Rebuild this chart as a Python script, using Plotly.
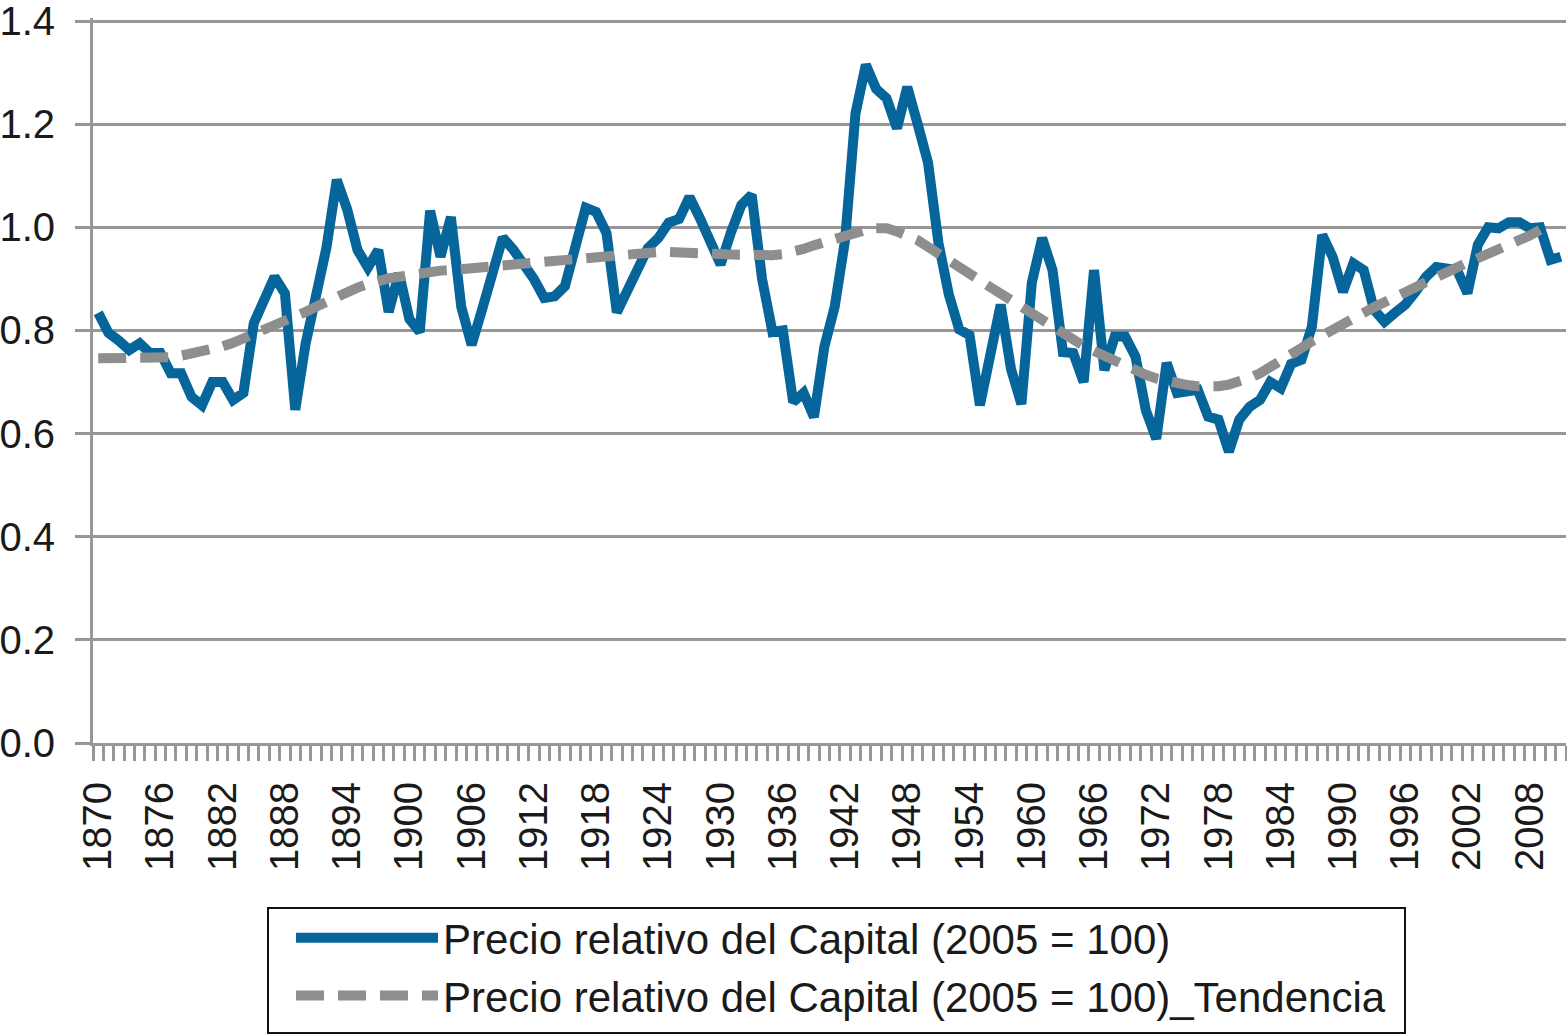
import plotly.graph_objects as go

years = list(range(1870, 2012))

precio = [
    0.834, 0.795, 0.780, 0.762, 0.775, 0.756, 0.756, 0.717, 0.717, 0.671,
    0.655, 0.700, 0.700, 0.665, 0.679, 0.814, 0.859, 0.904, 0.872, 0.646,
    0.775, 0.870, 0.960, 1.092, 1.035, 0.956, 0.922, 0.956, 0.836, 0.911,
    0.822, 0.797, 1.032, 0.943, 1.020, 0.846, 0.772, 0.840, 0.904, 0.980,
    0.957, 0.932, 0.900, 0.863, 0.866, 0.886, 0.972, 1.038, 1.030, 0.989,
    0.835, 0.875, 0.915, 0.960, 0.979, 1.009, 1.016, 1.059, 1.018, 0.975,
    0.928, 0.990, 1.043, 1.063, 0.900, 0.797, 0.800, 0.661, 0.679, 0.632,
    0.768, 0.846, 0.975, 1.220, 1.315, 1.268, 1.250, 1.192, 1.272, 1.200,
    1.125, 0.970, 0.870, 0.802, 0.791, 0.655, 0.750, 0.850, 0.725, 0.657,
    0.892, 0.979, 0.917, 0.758, 0.756, 0.700, 0.917, 0.723, 0.788, 0.788,
    0.749, 0.645, 0.590, 0.737, 0.679, 0.680, 0.685, 0.633, 0.627, 0.565,
    0.627, 0.652, 0.665, 0.700, 0.688, 0.735, 0.743, 0.807, 0.985, 0.943,
    0.875, 0.930, 0.917, 0.840, 0.817, 0.834, 0.850, 0.875, 0.904, 0.923,
    0.921, 0.917, 0.872, 0.966, 1.000, 0.998, 1.010, 1.010, 0.998, 1.000,
    0.937, 0.943,
]

trend_years = list(range(1870, 2010))
tendencia = [
    0.746, 0.746, 0.746, 0.746, 0.746, 0.746, 0.746, 0.748, 0.751, 0.755,
    0.759, 0.764, 0.769, 0.776, 0.784, 0.792, 0.800, 0.808, 0.817, 0.826,
    0.836, 0.846, 0.856, 0.866, 0.875, 0.883, 0.890, 0.897, 0.901, 0.904,
    0.908, 0.911, 0.914, 0.916, 0.917, 0.918, 0.920, 0.922, 0.924, 0.926,
    0.928, 0.930, 0.931, 0.932, 0.934, 0.937, 0.940, 0.942, 0.944, 0.945,
    0.947, 0.949, 0.951, 0.952, 0.952, 0.952, 0.952, 0.952, 0.951, 0.950,
    0.948, 0.947, 0.946, 0.946, 0.946, 0.946, 0.948, 0.952, 0.958, 0.965,
    0.972, 0.979, 0.985, 0.991, 0.995, 0.998, 0.998, 0.992, 0.985, 0.975,
    0.962, 0.950, 0.937, 0.923, 0.910, 0.897, 0.884, 0.871, 0.858, 0.846,
    0.833, 0.820, 0.807, 0.795, 0.782, 0.770, 0.760, 0.750, 0.741, 0.732,
    0.722, 0.714, 0.707, 0.701, 0.697, 0.694, 0.692, 0.691, 0.692, 0.695,
    0.700, 0.708, 0.717, 0.728, 0.740, 0.753, 0.766, 0.779, 0.791, 0.802,
    0.812, 0.823, 0.834, 0.845, 0.855, 0.866, 0.877, 0.887, 0.897, 0.907,
    0.916, 0.924, 0.932, 0.940, 0.948, 0.956, 0.965, 0.974, 0.984, 0.995,
]

x_tick_years = list(range(1870, 2012, 6))
x_tick_text = [str(y) for y in x_tick_years]
y_ticks = [0.0, 0.2, 0.4, 0.6, 0.8, 1.0, 1.2, 1.4]

name1 = "Precio relativo del Capital (2005 = 100)"
name2 = "Precio relativo del Capital (2005 = 100)_Tendencia"

GRID = "#979797"
TXT = "#1a1a1a"
FONT = "Liberation Sans, Arial, sans-serif"

fig = go.Figure()
fig.add_trace(go.Scatter(
    x=years, y=precio, mode="lines", name=name1,
    line=dict(color="#06659b", width=10),
))
fig.add_trace(go.Scatter(
    x=trend_years, y=tendencia, mode="lines", name=name2,
    line=dict(color="#8e8e8e", width=10, dash="28px,14px"),
))

boundaries = [years[0] - 0.5 + k for k in range(len(years) + 1)]

W, H = 1567, 1036
ML, MR, MT, MB = 93, 1, 18, 293
PW, PH = W - ML - MR, H - MT - MB
Y_TOP = 1.4 * PH / (PH - 3)   # 1.4 sits 3 px below the top of the plot area


def px_x(p):
    return (p - ML) / PW


def px_y(p):
    return (H - MB - p) / PH


fig.update_layout(
    width=W, height=H,
    margin=dict(l=ML, r=MR, t=MT, b=MB),
    paper_bgcolor="white", plot_bgcolor="white",
    font=dict(family=FONT, size=40, color=TXT),
    showlegend=True,
    legend=dict(
        x=px_x(291), y=px_y(904), xanchor="left", yanchor="top",
        borderwidth=0, bgcolor="rgba(0,0,0,0)",
        font=dict(family=FONT, size=42, color=TXT),
        itemwidth=142,
    ),
    shapes=[dict(
        type="rect", xref="paper", yref="paper",
        x0=px_x(268), x1=px_x(1405), y0=px_y(1033), y1=px_y(908),
        line=dict(color="#111111", width=2), fillcolor="rgba(0,0,0,0)",
        layer="above",
    )],
    xaxis=dict(
        range=[years[0] - 0.5, years[-1] + 0.5],
        tickmode="array", tickvals=x_tick_years, ticktext=x_tick_text,
        tickangle=-90, ticks="", showgrid=False, zeroline=False,
        showline=True, linecolor=GRID, linewidth=3,
        ticklabelstandoff=20, automargin=False, ticklabeloverflow="allow",
        tickfont=dict(family=FONT, size=40, color=TXT),
        minor=dict(tickmode="array", tickvals=boundaries, ticks="outside",
                   ticklen=15, tickwidth=3, tickcolor=GRID, showgrid=False),
    ),
    yaxis=dict(
        range=[0, Y_TOP], tickmode="array", tickvals=y_ticks,
        tickformat=".1f", ticks="outside", ticklen=15, tickwidth=3,
        tickcolor=GRID, showgrid=True, gridcolor=GRID, gridwidth=3,
        zeroline=False, showline=True, linecolor=GRID, linewidth=3,
        ticklabelstandoff=12, automargin=False, ticklabeloverflow="allow",
        tickfont=dict(family=FONT, size=40, color=TXT),
    ),
)

fig.write_html(
    "out.html",
    config={"displayModeBar": False},
    post_script="document.body.style.margin='0';document.body.style.overflow='hidden';",
)
